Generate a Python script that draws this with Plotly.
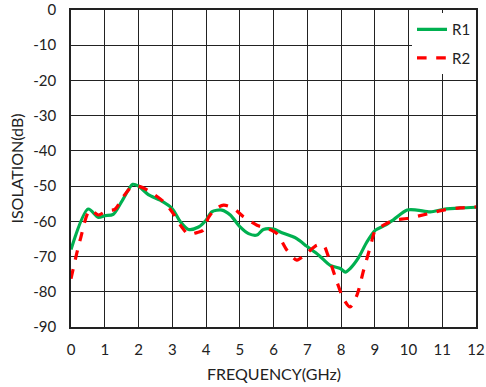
import plotly.graph_objects as go

r1_freq = [0, 0.51, 0.81, 1.0, 1.25, 1.5, 1.83, 2.0, 2.29, 2.64, 2.99, 3.24, 3.48, 3.78, 4.0, 4.17, 4.47, 4.72,
           5.01, 5.26, 5.51, 5.70, 6.0, 6.2, 6.5, 6.69, 6.99, 7.34, 7.68, 7.98, 8.13, 8.27, 8.52, 8.77, 9.02,
           9.31, 9.56, 9.96, 10.25, 10.65, 11.04, 11.54, 12.0]
r1_db = [-68, -56.5, -58.9, -58.4, -58, -54.4, -49.5, -50, -52.4, -54, -56.3, -60.1, -62.3, -61.6, -59.7, -57.3,
         -56.8, -58.2, -61.6, -63.5, -63.9, -62.3, -62.2, -63, -64.1, -64.9, -67.1, -69.6, -72.5, -73.4, -74.4,
         -73.4, -70.3, -65.8, -62.5, -61.1, -59.5, -56.8, -56.8, -57.3, -56.6, -56.2, -56]

r2_freq = [0, 0.27, 0.56, 0.81, 1.06, 1.3, 1.55, 1.8, 2.0, 2.34, 2.74, 3.03, 3.28, 3.48, 3.73, 3.92, 4.07, 4.27,
           4.52, 4.81, 5.11, 5.51, 5.8, 6.1, 6.4, 6.69, 6.99, 7.29, 7.48, 7.63, 7.88, 8.07, 8.27, 8.47, 8.67,
           8.87, 9.02, 9.26, 9.56, 9.96, 10.55, 11.04, 11.54, 12.0]
r2_db = [-76.3, -65.3, -56.8, -58.2, -57, -56.6, -53, -50.2, -50, -51.6, -54.4, -57.8, -61.6, -63.7, -63.2,
         -62.5, -59, -56.6, -55.4, -56.3, -58.7, -61.1, -62, -63.5, -68.2, -71, -69, -66.8, -66.8, -70.1,
         -77.2, -81.9, -84.3, -81, -73.9, -67.2, -62.5, -61.1, -59.7, -59.2, -57.9, -56.8, -56.2, -55.9]

x_ticks = list(range(0, 13))
y_ticks = list(range(-90, 1, 10))
y_ticktext = [str(v) for v in y_ticks]  # plain hyphen-minus

x_title = "FREQUENCY(GHz)"
y_title = "ISOLATION(dB)"

font = dict(family="Lato, Open Sans, sans-serif", size=15, color="#222")

fig = go.Figure()
fig.add_trace(go.Scatter(x=r1_freq, y=r1_db, mode="lines", name="R1", legendgroup="a",
                         line=dict(color="#00B050", width=3.2, shape="spline", smoothing=0.8)))
fig.add_trace(go.Scatter(x=r2_freq, y=r2_db, mode="lines", name="R2", legendgroup="b",
                         line=dict(color="#FF0000", width=3.2, dash="dash", shape="spline", smoothing=0.8)))

fig.update_layout(
    width=486, height=387,
    margin=dict(l=71, r=10, t=10, b=60, autoexpand=False),
    paper_bgcolor="white", plot_bgcolor="white",
    font=font,
    showlegend=True,
    legend=dict(x=1, y=0.99, xanchor="right", yanchor="top", bgcolor="white",
                borderwidth=0, font=dict(size=15), tracegroupgap=6, itemwidth=30),
    xaxis=dict(range=[0, 12], tickvals=x_ticks, showgrid=True, gridcolor="#222", gridwidth=1.3,
               showline=True, linecolor="#222", linewidth=1.5, mirror=True, zeroline=False,
               ticks="", ticklen=0, automargin=False, ticklabelstandoff=8),
    yaxis=dict(range=[-90, 0], tickvals=y_ticks, ticktext=y_ticktext, showgrid=True, gridcolor="#222",
               gridwidth=1.3, showline=True, linecolor="#222", linewidth=1.5, mirror=True, zeroline=False,
               ticks="", ticklen=0, automargin=False, ticklabelstandoff=10,
               title=dict(text=y_title, font=dict(size=16), standoff=6)),
    annotations=[dict(text=x_title, xref="paper", yref="paper", x=0.5, y=-46 / 317,
                      xanchor="center", yanchor="middle", showarrow=False, font=dict(size=16))],
)

fig.write_html("out.html", config={"displayModeBar": False},
               post_script="document.body.style.margin='0';")
